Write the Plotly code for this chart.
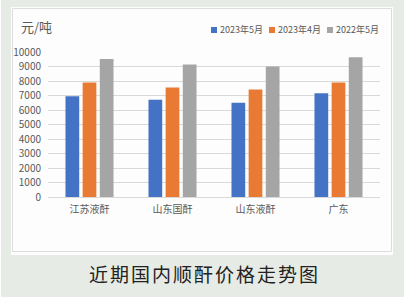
import plotly.graph_objects as go

categories = ["江苏液酐", "山东国酐", "山东液酐", "广东"]
series_names = ["2023年5月", "2023年4月", "2022年5月"]
may_2023 = [6950, 6700, 6500, 7150]
apr_2023 = [7900, 7550, 7420, 7900]
may_2022 = [9520, 9130, 9000, 9640]
colors = ["#4472c4", "#e97a33", "#a5a5a5"]
y_ticks = [0, 1000, 2000, 3000, 4000, 5000, 6000, 7000, 8000, 9000, 10000]
y_tick_labels = [str(v) for v in y_ticks]

W, H = 409, 307
L, R, T, B = 48, 29, 52, 110
pw, ph = W - L - R, H - T - B

def px_x(x):
    return (x - L) / pw

def px_y(y):
    return (H - B - y) / ph

fig = go.Figure()
for name, vals, col in zip(series_names, [may_2023, apr_2023, may_2022], colors):
    fig.add_trace(go.Bar(x=categories, y=vals, name=name, marker_color=col,
                         marker_line_width=0))

font_main = "Liberation Sans Narrow, Noto Sans CJK SC, sans-serif"
shapes = [
    dict(type="rect", xref="paper", yref="paper", x0=px_x(1), x1=px_x(404),
         y0=px_y(0), y1=px_y(297), fillcolor="#e7ebe5", line_width=0, layer="below"),
    dict(type="rect", xref="paper", yref="paper", x0=px_x(11), x1=px_x(393),
         y0=px_y(7), y1=px_y(255), fillcolor="#fdfdfd", line_width=0, layer="below"),
    dict(type="rect", xref="paper", yref="paper", x0=px_x(12.5), x1=px_x(391.5),
         y0=px_y(8.5), y1=px_y(251.5), fillcolor="rgba(0,0,0,0)",
         line=dict(color="#dcdcdc", width=1), layer="below"),
]

annotations = [
    dict(text="元/吨", xref="paper", yref="paper", x=px_x(19), y=px_y(26),
         xanchor="left", yanchor="middle", showarrow=False,
         font=dict(size=13, color="#595959", family="Noto Sans CJK SC")),
    dict(text="<span style='letter-spacing:2px'>近期国内顺酐价格走势图</span>",
         xref="paper", yref="paper", x=px_x(204),
         y=px_y(273), xanchor="center", yanchor="middle", showarrow=False,
         font=dict(size=19, color="#222222", family="Noto Sans CJK SC")),
]

# legend (layout element): colour key + series name
legend_x = [211, 269, 327]
for lx, name, col in zip(legend_x, series_names, colors):
    shapes.append(dict(type="rect", xref="paper", yref="paper",
                       x0=px_x(lx), x1=px_x(lx + 6), y0=px_y(27), y1=px_y(33),
                       fillcolor=col, line_width=0))
    annotations.append(dict(text=name, xref="paper", yref="paper", x=px_x(lx + 7),
                            y=px_y(30), xanchor="left", yanchor="middle",
                            showarrow=False,
                            font=dict(size=9, color="#595959",
                                      family="Liberation Sans Narrow, Noto Sans CJK SC")))

fig.update_layout(
    width=W, height=H,
    margin=dict(l=L, r=R, t=T, b=B, pad=0),
    paper_bgcolor="white", plot_bgcolor="rgba(0,0,0,0)",
    barmode="group", bargap=0.38, bargroupgap=0.2,
    font=dict(family=font_main, size=10, color="#595959"),
    shapes=shapes,
    showlegend=False,
    xaxis=dict(showline=True, linecolor="#d9d9d9", linewidth=1, ticks="",
               ticklabelstandoff=3,
               tickfont=dict(size=10, color="#595959", family="Noto Sans CJK SC")),
    yaxis=dict(range=[0, 10000], tickvals=y_ticks, ticktext=y_tick_labels,
               showgrid=True, gridcolor="#d9d9d9",
               gridwidth=1, zeroline=False, showline=False, ticks="",
               ticklabelstandoff=6,
               tickfont=dict(size=10, color="#595959")),
    annotations=annotations,
)

fig.write_html("out.html")
